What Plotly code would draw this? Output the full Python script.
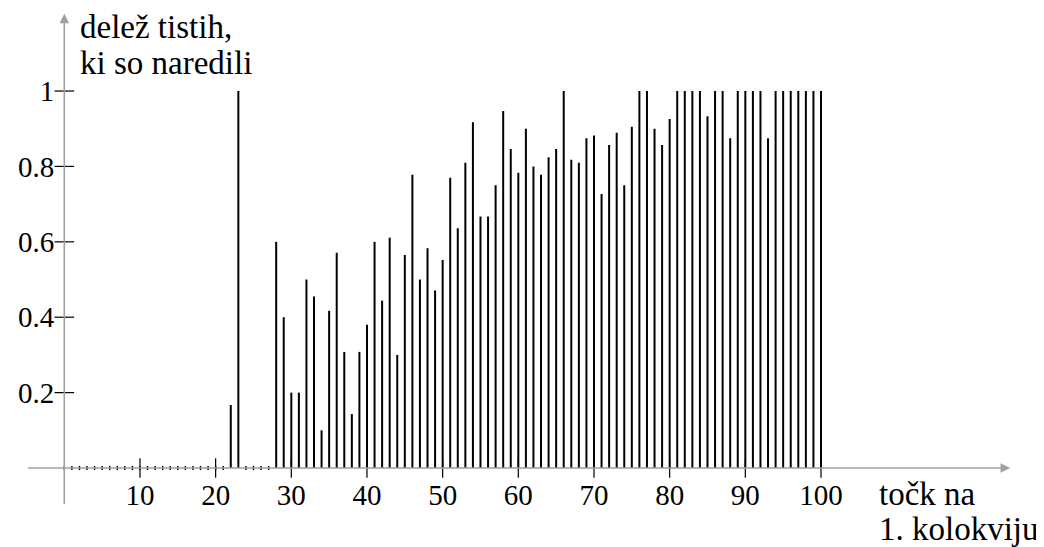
import plotly.graph_objects as go

# data
points = list(range(0, 101))
share = [0, 0, 0, 0, 0, 0, 0, 0, 0, 0,
         0, 0, 0, 0, 0, 0, 0, 0, 0, 0,
         0, 0, 0.167, 1.0, 0, 0, 0, 0, 0.6, 0.4,
         0.2, 0.2, 0.5, 0.455, 0.1, 0.417, 0.571, 0.308, 0.143, 0.308,
         0.38, 0.6, 0.444, 0.611, 0.3, 0.565, 0.778, 0.5, 0.583, 0.471,
         0.552, 0.77, 0.636, 0.81, 0.917, 0.667, 0.667, 0.75, 0.947, 0.846,
         0.783, 0.9, 0.8, 0.778, 0.824, 0.846, 1.0, 0.818, 0.81, 0.875,
         0.882, 0.727, 0.857, 0.889, 0.75, 0.905, 1.0, 1.0, 0.9, 0.857,
         0.926, 1.0, 1.0, 1.0, 1.0, 0.933, 1.0, 1.0, 0.875, 1.0,
         1.0, 1.0, 1.0, 0.875, 1.0, 1.0, 1.0, 1.0, 1.0, 1.0,
         1.0]
x_ticks = [10, 20, 30, 40, 50, 60, 70, 80, 90, 100]
x_ticktext = ["10", "20", "30", "40", "50", "60", "70", "80", "90", "100"]
y_ticks = [0.2, 0.4, 0.6, 0.8, 1.0]
y_ticktext = ["0.2", "0.4", "0.6", "0.8", "1"]
y_title_lines = ["delež tistih,", "ki so naredili"]
x_title_lines = ["točk na", "1. kolokviju"]

FONT = "Liberation Serif"
FS = 29
FS_TITLE = 33
GRAY = "rgb(160,160,160)"

# figure is 1036x539 (page body adds an 8px margin)
W, H = 1036, 539
X_RANGE = [-7.44, 129.47]
Y_RANGE = [-0.2095, 1.2202]

fig = go.Figure()

# comb lines
cx, cy = [], []
zx, zy = [], []
for p, v in zip(points, share):
    if v > 0:
        cx += [p, p, None]
        cy += [0, v, None]
    else:
        zx.append(p)
        zy.append(v)

fig.add_trace(go.Scatter(x=zx, y=zy, mode="markers",
                         marker=dict(symbol="line-ns", size=3, color="black",
                                     line=dict(color="black", width=1.5)),
                         hoverinfo="skip", showlegend=False))
fig.add_trace(go.Scatter(x=cx, y=cy, mode="lines",
                         line=dict(color="black", width=2),
                         hoverinfo="skip", showlegend=False))

# tick marks crossing the axes
fig.add_trace(go.Scatter(x=x_ticks, y=[0] * len(x_ticks), mode="markers",
                         marker=dict(symbol="line-ns", size=14, color="black",
                                     line=dict(color="black", width=1.2)),
                         hoverinfo="skip", showlegend=False))
fig.add_trace(go.Scatter(x=[0] * len(y_ticks), y=y_ticks, mode="markers",
                         marker=dict(symbol="line-ew", size=14, color="black",
                                     line=dict(color="black", width=1.2)),
                         hoverinfo="skip", showlegend=False))

# axis lines with arrows
fig.add_annotation(x=125, y=0, ax=-5, ay=0, xref="x", yref="y", axref="x", ayref="y",
                   text="", showarrow=True, arrowhead=2, arrowsize=1.2,
                   arrowwidth=1.6, arrowcolor=GRAY)
fig.add_annotation(x=0, y=1.205, ax=0, ay=-0.1, xref="x", yref="y", axref="x", ayref="y",
                   text="", showarrow=True, arrowhead=2, arrowsize=1.2,
                   arrowwidth=1.6, arrowcolor=GRAY)

# axis titles (one annotation per line for tighter line spacing)
for txt, yp in zip(y_title_lines, [0.9647, 0.898]):
    fig.add_annotation(x=1.8, y=yp, xref="x", yref="paper", xanchor="left",
                       yanchor="middle", text=txt, showarrow=False,
                       font=dict(family=FONT, size=FS_TITLE, color="black"))
for txt, yp in zip(x_title_lines, [0.0983, 0.0334]):
    fig.add_annotation(x=107.4, y=yp, xref="x", yref="paper", xanchor="left",
                       yanchor="middle", text=txt, showarrow=False,
                       font=dict(family=FONT, size=FS_TITLE, color="black"))

x0_frac = (0 - Y_RANGE[0]) / (Y_RANGE[1] - Y_RANGE[0])
y0_frac = (0 - X_RANGE[0]) / (X_RANGE[1] - X_RANGE[0])

fig.update_layout(
    width=W, height=H,
    margin=dict(l=0, r=0, t=0, b=0),
    paper_bgcolor="white", plot_bgcolor="white",
    showlegend=False,
    xaxis=dict(range=X_RANGE, anchor="free", position=x0_frac,
               tickvals=x_ticks, ticktext=x_ticktext, ticks="",
               showline=False, showgrid=False, zeroline=False,
               ticklabelstandoff=7,
               tickfont=dict(family=FONT, size=FS, color="black")),
    yaxis=dict(range=Y_RANGE, anchor="free", position=y0_frac,
               tickvals=y_ticks, ticktext=y_ticktext, ticks="",
               showline=False, showgrid=False, zeroline=False,
               ticklabelstandoff=10,
               tickfont=dict(family=FONT, size=FS, color="black")),
)

fig.write_html("out.html")
